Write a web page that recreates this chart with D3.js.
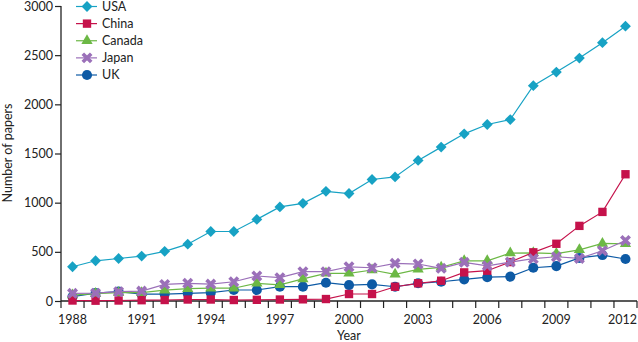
<!DOCTYPE html>
<html>
<head>
<meta charset="utf-8">
<script src="https://cdn.jsdelivr.net/npm/d3@7"></script>
<style>
  body { margin: 0; background: #fff; }
  text { font-family: Lato, "Open Sans", sans-serif; fill: #222; }
</style>
</head>
<body>
<div id="chart"></div>
<script>
var years = d3.range(1988, 2013);
var yTicks = [0, 500, 1000, 1500, 2000, 2500, 3000];
var xLabels = [1988, 1991, 1994, 1997, 2000, 2003, 2006, 2009, 2012];

var usa = [348, 409, 432, 457, 505, 578, 707, 707, 830, 957, 993, 1115, 1093, 1236, 1262, 1430, 1565, 1700, 1795, 1845, 2190, 2328, 2470, 2627, 2795];
var china = [5, 3, 5, 8, 10, 15, 15, 10, 12, 15, 17, 20, 71, 71, 145, 180, 206, 291, 308, 396, 495, 582, 764, 906, 1289];
var canada = [60, 75, 85, 85, 110, 125, 130, 130, 180, 165, 225, 281, 281, 315, 271, 322, 342, 409, 409, 487, 490, 482, 520, 585, 582];
var japan = [78, 80, 95, 101, 169, 180, 172, 196, 254, 237, 298, 298, 348, 338, 383, 376, 332, 393, 358, 396, 430, 450, 433, 511, 615];
var uk = [45, 80, 95, 70, 70, 78, 85, 112, 112, 146, 146, 186, 162, 169, 145, 180, 196, 220, 242, 248, 338, 355, 438, 467, 427];

var series = [
  { name: "USA", values: usa, color: "#17a2c4", symbol: d3.symbolDiamond2, size: 75 },
  { name: "China", values: china, color: "#c5124b", symbol: d3.symbolSquare, size: 70 },
  { name: "Canada", values: canada, color: "#6cb845", symbol: d3.symbolTriangle, size: 55 },
  { name: "Japan", values: japan, color: "#9b70b9", symbol: d3.symbolTimes, size: 48, stroke: true },
  { name: "UK", values: uk, color: "#0d5aa5", symbol: d3.symbolCircle, size: 80 }
];
var drawOrder = ["UK", "Canada", "China", "Japan", "USA"];

var width = 638, height = 342;

var svg = d3.select("#chart")
  .append("svg")
  .attr("width", width)
  .attr("height", height);

var x = d3.scaleBand()
  .domain(years)
  .range([61, 637]);

var y = d3.scaleLinear()
  .domain([0, 3000])
  .range([301, 6]);

// y axis
var yAxis = svg.append("g")
  .attr("transform", "translate(61,0)")
  .call(d3.axisLeft(y).tickValues(yTicks).tickFormat(d3.format("d")).tickSize(6).tickPadding(2));
yAxis.select(".domain").attr("d", "M0," + y(0) + "V" + y(3000)).attr("stroke", "#222").attr("stroke-width", 1.3);
yAxis.selectAll(".tick line").attr("stroke", "#222").attr("stroke-width", 1.2);
yAxis.selectAll(".tick text").style("font-size", "12.5px").attr("fill", "#333");

// x axis: ticks at band edges, labels at band centres
var edges = years.map(function (d) { return x(d); }).concat([x(2012) + x.bandwidth()]);
var xg = svg.append("g").attr("transform", "translate(0," + y(0) + ")");
xg.append("line")
  .attr("x1", 61).attr("x2", edges[edges.length - 1])
  .attr("stroke", "#222").attr("stroke-width", 1.3);
xg.selectAll(".etick").data(edges).enter().append("line")
  .attr("x1", function (d) { return d; }).attr("x2", function (d) { return d; })
  .attr("y1", 0).attr("y2", 7)
  .attr("stroke", "#222").attr("stroke-width", 1.2);
xg.selectAll(".xl").data(xLabels).enter().append("text")
  .attr("x", function (d) { return d === 2012 ? 637 : x(d) + x.bandwidth() / 2; })
  .attr("y", 23)
  .attr("text-anchor", function (d) { return d === 2012 ? "end" : "middle"; })
  .style("font-size", "12.5px")
  .attr("fill", "#333")
  .text(function (d) { return d; });

svg.append("text")
  .attr("x", 349).attr("y", 340)
  .attr("text-anchor", "middle")
  .style("font-size", "12.5px")
  .text("Year");

svg.append("text")
  .attr("transform", "rotate(-90)")
  .attr("x", -153).attr("y", 12)
  .attr("text-anchor", "middle")
  .style("font-size", "12.5px")
  .text("Number of papers");

var cx = function (i) { return x(years[i]) + x.bandwidth() / 2; };

function drawMarker(sel, s) {
  var p = sel.attr("d", d3.symbol().type(s.symbol).size(s.size));
  if (s.stroke) {
    p.attr("fill", "none").attr("stroke", s.color).attr("stroke-width", 3.6);
  } else {
    p.attr("fill", s.color).attr("stroke", "none");
  }
  return p;
}

drawOrder.forEach(function (name) {
  var s = series.find(function (d) { return d.name === name; });
  var g = svg.append("g");
  g.append("path")
    .datum(s.values)
    .attr("fill", "none")
    .attr("stroke", s.color)
    .attr("stroke-width", 1.2)
    .attr("d", d3.line()
      .x(function (d, i) { return cx(i); })
      .y(function (d) { return y(d); })
    );
  g.selectAll(".m").data(s.values).enter().append("path")
    .attr("transform", function (d, i) { return "translate(" + cx(i) + "," + y(d) + ")"; })
    .each(function () { drawMarker(d3.select(this), s); });
});

// legend
var ly = d3.scalePoint()
  .domain(series.map(function (d) { return d.name; }))
  .range([6.5, 75]);
var leg = svg.append("g");
series.forEach(function (s) {
  var row = leg.append("g").attr("transform", "translate(0," + ly(s.name) + ")");
  row.append("line")
    .attr("x1", 76).attr("x2", 97)
    .attr("stroke", s.color).attr("stroke-width", 1.2);
  drawMarker(row.append("path").attr("transform", "translate(87,0)"), s);
  row.append("text")
    .attr("x", 102).attr("y", 0)
    .attr("dy", "0.35em")
    .style("font-size", "12.5px")
    .text(s.name);
});
</script>
</body>
</html>
